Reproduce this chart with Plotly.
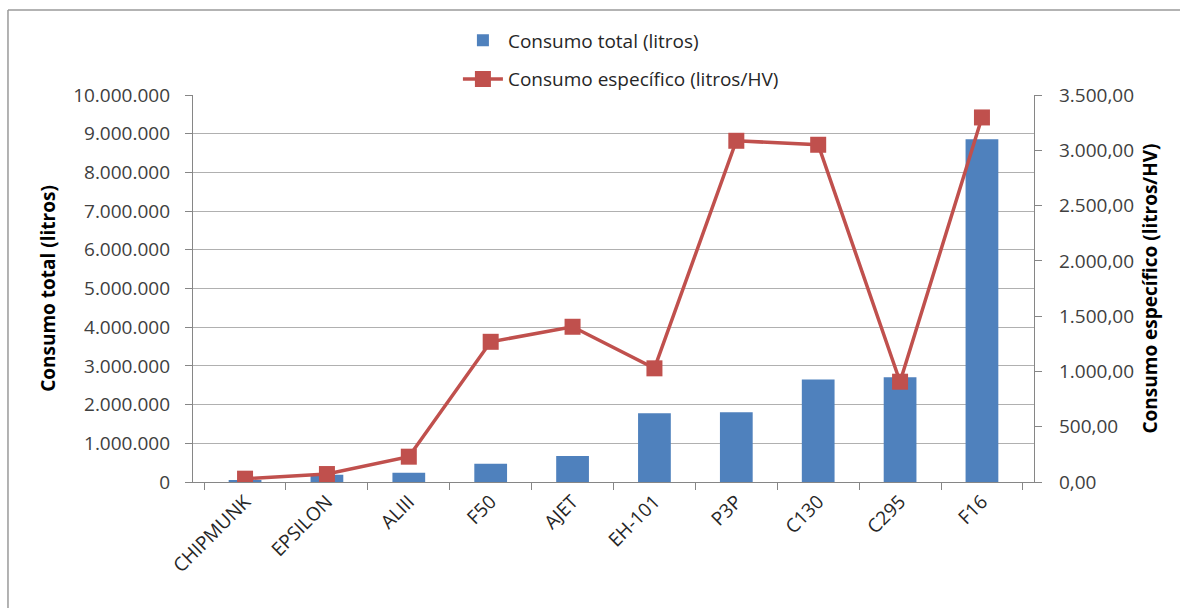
import plotly.graph_objects as go

categories = ["CHIPMUNK", "EPSILON", "ALIII", "F50", "AJET", "EH-101", "P3P", "C130", "C295", "F16"]
consumo_total = [45000, 190000, 240000, 470000, 670000, 1775000, 1800000, 2650000, 2705000, 8855000]
consumo_especifico = [30, 72, 229, 1268, 1404, 1028, 3086, 3050, 907, 3297]

FONT = "Open Sans"
fig = go.Figure()
fig.add_trace(go.Bar(
    x=categories, y=consumo_total, name="Consumo total (litros)",
    marker=dict(color="#4F81BD", line=dict(width=0)),
    legendgroup="a", yaxis="y",
))
fig.add_trace(go.Scatter(
    x=categories, y=consumo_especifico, name="Consumo específico (litros/HV)",
    mode="lines+markers",
    line=dict(color="#C0504D", width=3.5),
    marker=dict(symbol="square", size=16, color="#C0504D"),
    legendgroup="b", yaxis="y2",
))

fig.update_layout(
    width=1180, height=608,
    margin=dict(l=193, r=146, t=95, b=126),
    paper_bgcolor="white", plot_bgcolor="white",
    separators=",.",
    font=dict(family=FONT, size=19, color="#404040"),
    bargap=0.6,
    showlegend=True,
    legend=dict(
        x=0.315, y=1.19, xanchor="left", yanchor="top",
        orientation="v", tracegroupgap=11,
        font=dict(family=FONT, size=19, color="#262626"),
        bgcolor="rgba(0,0,0,0)", itemwidth=40,
    ),
    xaxis=dict(
        type="category", tickangle=-45, tickson="boundaries",
        ticks="outside", ticklen=7, tickcolor="#868686",
        showline=True, linecolor="#868686", linewidth=1.3,
        tickfont=dict(family=FONT, size=19, color="#262626"),
        showgrid=False,
    ),
    yaxis=dict(
        range=[0, 10000000], dtick=1000000, tickformat=",.0f",
        showgrid=True, gridcolor="#B0B0B0", gridwidth=1.3,
        showline=True, linecolor="#868686", linewidth=1.3,
        ticks="outside", ticklen=7, tickcolor="#868686", ticklabelstandoff=11,
        tickfont=dict(family=FONT, size=19, color="#404040"),
        title=dict(text="<b>Consumo total (litros)</b>", font=dict(family=FONT, size=19, color="#000000"), standoff=12),
        zeroline=False,
    ),
    yaxis2=dict(
        range=[0, 3500], dtick=500, tickformat=",.2f",
        overlaying="y", side="right", showgrid=False,
        showline=True, linecolor="#868686", linewidth=1.3,
        ticks="outside", ticklen=7, tickcolor="#868686", ticklabelstandoff=13,
        tickfont=dict(family=FONT, size=19, color="#404040"),
        title=dict(text="<b>Consumo específico (litros/HV)</b>", font=dict(family=FONT, size=19, color="#000000"), standoff=10),
        zeroline=False,
    ),
    shapes=[
        dict(type="line", xref="paper", yref="paper", x0=-0.22, x1=1.2, y0=1.2196, y1=1.2196,
             line=dict(color="#9A9A9A", width=1.5)),
        dict(type="line", xref="paper", yref="paper", x0=-0.22, x1=-0.22, y0=-0.33, y1=1.2196,
             line=dict(color="#9A9A9A", width=1.5)),
    ],
)

fig.write_html("out.html")
